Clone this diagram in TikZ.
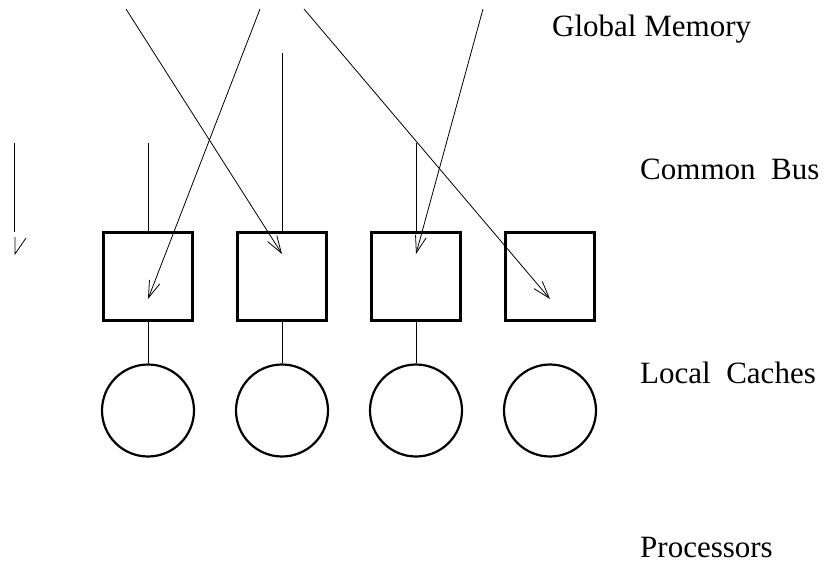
\documentclass[tikz,border=0pt]{standalone}
\usepackage{fontspec}
\setmainfont{Liberation Serif}
\usetikzlibrary{arrows.meta}
\begin{document}
\begin{tikzpicture}[x=1pt,y=-1pt,
  wire/.style={line width=0.8pt},
  ptr/.style={wire,-{Straight Barb[length=17pt,width=11pt]}},
  cachebox/.style={draw,line width=2.2pt,minimum width=89pt,minimum height=88pt,inner sep=0pt},
  cpu/.style={draw,circle,line width=2.2pt,minimum size=92pt,inner sep=0pt},
  tag/.style={anchor=base west,inner sep=0pt,font=\fontsize{31}{37}\selectfont}]
\useasboundingbox (0,0) rectangle (829,571);

% caches and processors
\foreach \i/\x in {1/148,2/282,3/416,4/550}{
  \node[cachebox] (b\i) at (\x,276.5) {};
  \node[cpu] (c\i) at (\x,410.5) {};
}
% cache-to-processor links (the fourth pair is left unlinked)
\foreach \i in {1,2,3}{
  \draw[wire] (b\i.south) -- (c\i.north);
}

% bus lines dropping onto the caches
\coordinate (v1) at (148,143);
\coordinate (v2) at (282,53);
\coordinate (v3) at (416,143);
\draw[wire] (v1) -- (b1.north);
\draw[wire] (v2) -- (b2.north);
\draw[wire] (v3) -- (b3.north);

% transfers from global memory
\coordinate (m1) at (260,9);   \coordinate (t1) at (148,299);
\coordinate (m2) at (126,9);   \coordinate (t2) at (282,254);
\coordinate (m3) at (483,9);   \coordinate (t3) at (416,254);
\coordinate (m4) at (304,9);   \coordinate (t4) at (550,299);
\draw[ptr] (m1) -- (t1);
\draw[ptr] (m2) -- (t2);
\draw[ptr] (m3) -- (t3);
\draw[ptr] (m4) -- (t4);

% legend arrow on the left
\coordinate (la) at (14,143);
\coordinate (lb) at (14,232);
\coordinate (lt) at (15,254);
\draw[wire] (la) -- (lb);
\draw[wire] (15,237) -- (lt) -- (26,238);

% level labels
\node[tag] (lglobal) at (552,36) {Global Memory};
\node[tag] (lbus) at (640,179) {Common\ \ Bus};
\node[tag] (lcache) at (640,383) {Local\ \ Caches};
\node[tag] (lproc) at (640,557) {Processors};
\end{tikzpicture}
\end{document}
